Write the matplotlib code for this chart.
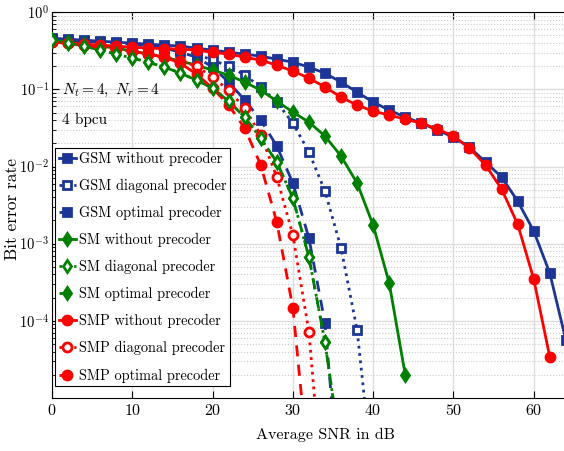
import numpy as np
import matplotlib
matplotlib.use("Agg")
import matplotlib.pyplot as plt
from matplotlib.ticker import LogLocator, NullFormatter

plt.rcParams['font.family'] = 'serif'
plt.rcParams['font.serif'] = ['cmr10']
plt.rcParams['mathtext.fontset'] = 'cm'
plt.rcParams['axes.formatter.use_mathtext'] = True

# --- data (SNR in dB, BER) ---
snr = np.arange(0, 66, 2)

gsm_none = [0.460, 0.447, 0.434, 0.421, 0.409, 0.397, 0.385, 0.374, 0.363, 0.342,
            0.322, 0.303, 0.286, 0.269, 0.246, 0.225, 0.194, 0.162, 0.124, 0.092,
            0.0683, 0.0538, 0.0436, 0.0365, 0.0296, 0.0240, 0.0178, 0.0114, 0.00729,
            0.00356, 0.00146, 4.16e-4, 5.64e-5]
gsm_diag = [0.447, 0.434, 0.421, 0.409, 0.397, 0.385, 0.363, 0.342, 0.322, 0.286,
            0.239, 0.200, 0.153, 0.1068, 0.0683, 0.0365, 0.0154, 0.00480, 8.78e-4,
            7.61e-5, 8.7e-7]
gsm_opt = [0.447, 0.434, 0.421, 0.409, 0.397, 0.385, 0.363, 0.342, 0.303, 0.261,
           0.194, 0.124, 0.0725, 0.0399, 0.0184, 0.00610, 0.00118, 9.37e-5, 3.5e-7]

sm_none = [0.434, 0.409, 0.385, 0.363, 0.342, 0.313, 0.286, 0.261, 0.232, 0.206,
           0.177, 0.153, 0.124, 0.0976, 0.0703, 0.0507, 0.0376, 0.0248, 0.01364,
           0.00610, 0.00174, 3.09e-4, 1.99e-5]
sm_diag = [0.434, 0.397, 0.363, 0.322, 0.286, 0.254, 0.225, 0.194, 0.162, 0.1316,
           0.1036, 0.0703, 0.0436, 0.0233, 0.0114, 0.00390, 6.71e-4, 5.31e-5, 1.88e-6]
sm_opt = [0.434, 0.397, 0.363, 0.322, 0.286, 0.254, 0.225, 0.194, 0.162, 0.1316,
          0.1036, 0.0703, 0.0436, 0.0233, 0.0114, 0.00390, 6.71e-4, 5.31e-5, 1.88e-6]

smp_none = [0.409, 0.397, 0.385, 0.374, 0.363, 0.352, 0.342, 0.337, 0.332, 0.322,
            0.303, 0.286, 0.261, 0.239, 0.206, 0.172, 0.140, 0.107, 0.0792, 0.0624,
            0.0522, 0.0464, 0.0411, 0.0365, 0.0305, 0.0248, 0.0173, 0.01043, 0.00510,
            0.00179, 3.48e-4, 3.40e-5]
smp_diag = [0.409, 0.397, 0.374, 0.352, 0.332, 0.313, 0.286, 0.261, 0.232, 0.200,
            0.144, 0.0976, 0.0571, 0.0255, 0.00729, 0.00129, 7.16e-5, 2.6e-7]
smp_opt = [0.409, 0.397, 0.374, 0.352, 0.332, 0.313, 0.286, 0.261, 0.218, 0.157,
           0.1036, 0.0624, 0.0314, 0.01043, 0.00190, 1.47e-4, 1.10e-6]

blue = '#1c3596'
green = '#008000'
red = '#ff0000'

# label, data, colour, linestyle, marker, filled, markersize, zorder
series = [
    ('GSM without precoder', gsm_none, blue, '-', 's', True, 6, 3),
    ('GSM diagonal precoder', gsm_diag, blue, ':', 's', False, 6, 3),
    ('GSM optimal precoder', gsm_opt, blue, '--', 's', True, 6, 3),
    ('SM without precoder', sm_none, green, '-', 'd', True, 6.5, 3),
    ('SM diagonal precoder', sm_diag, green, ':', 'd', False, 6.5, 4),
    ('SM optimal precoder', sm_opt, green, '--', 'd', True, 6.5, 3),
    ('SMP without precoder', smp_none, red, '-', 'o', True, 6.5, 3),
    ('SMP diagonal precoder', smp_diag, red, ':', 'o', False, 6.5, 3),
    ('SMP optimal precoder', smp_opt, red, '--', 'o', True, 6.5, 3),
]

fig = plt.figure(figsize=(5.64, 4.51), dpi=100)
# the original figure is cropped on the right, so the axes run past the edge
ax = fig.add_axes([0.0922, 0.1175, 0.968, 0.8555])

for label, vals, col, ls, mk, filled, ms, z in series:
    x = snr[:len(vals)]
    kw = dict(color=col, linestyle=ls, linewidth=2, marker=mk, markersize=ms,
              markeredgewidth=2, markeredgecolor=col,
              markerfacecolor=col if filled else 'white', label=label, zorder=z)
    if ls == '--':
        kw['dashes'] = (4, 3)
    ax.plot(x, vals, **kw)

ax.set_yscale('log')
ax.set_xlim(0, 68)
ax.set_ylim(1e-5, 1)
ax.set_xticks(np.arange(0, 61, 10))
ax.set_yticks([1e-4, 1e-3, 1e-2, 1e-1, 1e0])
ax.yaxis.set_minor_locator(LogLocator(base=10, subs=np.arange(2, 10), numticks=20))
ax.yaxis.set_minor_formatter(NullFormatter())

ax.grid(True, which='major', color='#dddddd', linewidth=1, linestyle='-')
ax.grid(True, which='minor', axis='y', color='#cccccc', linewidth=0.8, linestyle=':')
ax.set_axisbelow(True)

ax.tick_params(which='both', direction='in', top=True, right=True)
ax.tick_params(axis='x', labelsize=11.5)
ax.tick_params(axis='y', labelsize=10.5, pad=2)
ax.tick_params(which='major', length=5)
ax.tick_params(which='minor', length=3)

ax.set_xlabel('Average SNR in dB', fontsize=11.5, labelpad=7)
ax.set_ylabel('Bit error rate', fontsize=12.5)
ax.yaxis.set_label_coords(-0.058, 0.49)

ax.text(1.3, 0.098, r'$N_t = 4,\ N_r = 4$', fontsize=11, va='center', ha='left')
ax.text(1.3, 0.040, '4 bpcu', fontsize=11, va='center', ha='left')

leg = ax.legend(loc='upper left', bbox_to_anchor=(0.0055, 0.648), borderaxespad=0,
                fontsize=10.3, handlelength=1.2, handletextpad=0.25, labelspacing=0.9,
                fancybox=False, framealpha=1, edgecolor='black', borderpad=0.25)
leg.get_frame().set_linewidth(0.8)

fig.savefig('out.png', dpi=100)
